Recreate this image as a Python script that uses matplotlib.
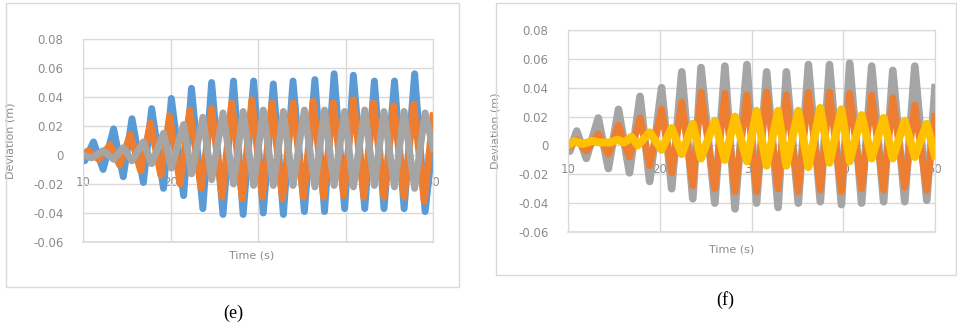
import matplotlib.pyplot as plt
from matplotlib.patches import Rectangle

# --- datos (e) ---
t_e_blue = [10.0, 10.2, 11.2, 12.3, 13.5, 14.6, 15.6, 16.9, 17.85, 19.2, 20.1, 21.5, 22.4, 23.7,
            24.7, 26.0, 27.2, 28.3, 29.5, 30.6, 31.75, 32.9, 34.0, 35.3, 36.5, 37.6, 38.7, 39.9,
            40.9, 42.2, 43.3, 44.4, 45.6, 46.7, 47.9, 49.1, 50.0]
v_e_blue = [0.0, -0.004, 0.009, -0.010, 0.018, -0.015, 0.025, -0.019, 0.032, -0.023, 0.039, -0.028,
            0.046, -0.037, 0.050, -0.041, 0.051, -0.041, 0.051, -0.040, 0.049, -0.041, 0.051, -0.039,
            0.052, -0.039, 0.056, -0.037, 0.055, -0.037, 0.051, -0.037, 0.051, -0.037, 0.056, -0.039, 0.010]

t_e_orange = [10.0, 10.6, 11.8, 13.1, 14.2, 15.4, 16.6, 17.7, 18.9, 19.9, 21.1, 22.2, 23.5, 24.7,
              25.9, 27.0, 28.2, 29.3, 30.5, 31.6, 32.8, 34.0, 35.2, 36.3, 37.5, 38.6, 39.8, 40.9,
              42.1, 43.2, 44.4, 45.5, 46.7, 47.8, 49.0, 50.0]
v_e_orange = [0.0, 0.003, -0.003, 0.007, -0.007, 0.014, -0.011, 0.022, -0.014, 0.027, -0.020, 0.031,
              -0.023, 0.032, -0.029, 0.036, -0.030, 0.038, -0.029, 0.036, -0.030, 0.036, -0.029, 0.037,
              -0.029, 0.036, -0.028, 0.038, -0.029, 0.036, -0.029, 0.034, -0.029, 0.035, -0.032, 0.027]

t_e_grey = [10.0, 11.0, 12.3, 13.5, 14.6, 15.6, 16.9, 17.85, 19.2, 20.1, 21.5, 22.4, 23.7, 24.7,
            26.0, 27.2, 28.3, 29.5, 30.6, 31.75, 32.9, 34.0, 35.3, 36.5, 37.6, 38.7, 39.9, 40.9,
            42.2, 43.3, 44.4, 45.6, 46.7, 47.9, 49.1, 50.0]
v_e_grey = [0.0, -0.002, 0.003, -0.003, 0.005, -0.004, 0.009, -0.006, 0.015, -0.009, 0.021, -0.013,
            0.026, -0.017, 0.029, -0.020, 0.030, -0.021, 0.031, -0.021, 0.030, -0.021, 0.031, -0.022,
            0.031, -0.021, 0.030, -0.022, 0.031, -0.021, 0.030, -0.022, 0.030, -0.023, 0.029, 0.005]

# --- datos (f) ---
t_f_main = [10.0, 10.2, 10.95, 12.0, 13.3, 14.4, 15.5, 16.7, 17.85, 18.9, 20.2, 21.3, 22.4, 23.6,
            24.5, 26.0, 27.1, 28.2, 29.5, 30.55, 31.65, 32.9, 33.8, 35.1, 36.2, 37.5, 38.5, 39.8,
            40.7, 42.0, 43.1, 44.4, 45.4, 46.7, 47.8, 49.1, 50.0]
v_f_grey = [0.0, -0.004, 0.010, -0.009, 0.019, -0.016, 0.025, -0.019, 0.034, -0.025, 0.040, -0.030,
            0.051, -0.037, 0.054, -0.040, 0.055, -0.044, 0.056, -0.040, 0.051, -0.043, 0.051, -0.040,
            0.056, -0.039, 0.056, -0.041, 0.057, -0.040, 0.055, -0.039, 0.052, -0.039, 0.055, -0.038, 0.040]
v_f_orange = [0.0, -0.001, 0.004, -0.004, 0.008, -0.006, 0.014, -0.008, 0.019, -0.014, 0.025, -0.019,
              0.030, -0.028, 0.037, -0.030, 0.036, -0.032, 0.035, -0.032, 0.037, -0.030, 0.035, -0.032,
              0.037, -0.031, 0.037, -0.032, 0.036, -0.030, 0.035, -0.031, 0.033, -0.029, 0.028, -0.031, 0.020]

t_f_yellow = [10.0, 10.7, 11.6, 12.6, 13.6, 14.6, 15.4, 16.1, 16.9, 17.6, 18.9, 20.2, 21.3, 22.4,
              23.6, 24.5, 26.0, 27.1, 28.2, 29.5, 30.55, 31.65, 32.9, 33.8, 35.1, 36.2, 37.5, 38.5,
              39.8, 40.7, 42.0, 43.1, 44.4, 45.4, 46.7, 47.8, 49.1, 50.0]
v_f_yellow = [0.0, 0.003, 0.001, 0.003, 0.002, 0.002, 0.004, 0.002, 0.006, 0.000, 0.009, -0.003,
              0.012, -0.006, 0.015, -0.009, 0.017, -0.010, 0.020, -0.011, 0.024, -0.014, 0.024, -0.014,
              0.024, -0.015, 0.026, -0.012, 0.025, -0.011, 0.021, -0.009, 0.019, -0.009, 0.017, -0.008,
              0.015, -0.007]

x_ticks = [10, 20, 30, 40, 50]
x_labels = ['10', '20', '30', '40', '50']
y_ticks = [-0.06, -0.04, -0.02, 0, 0.02, 0.04, 0.06, 0.08]
y_labels = ['-0.06', '-0.04', '-0.02', '0', '0.02', '0.04', '0.06', '0.08']

# colores tipo Excel
c_blue = '#5B9BD5'
c_orange = '#ED7D31'
c_grey = '#A5A5A5'
c_yellow = '#FFC000'
c_grid = '#D9D9D9'
c_text = '#8C8C8C'

fig = plt.figure(figsize=(9.57, 3.30), dpi=100)
W, H = 957, 330

# marcos de cada gráfico
fig.patches.append(Rectangle((6 / W, 1 - 287 / H), 453 / W, 284 / H, transform=fig.transFigure,
                             fill=False, edgecolor=c_grid, linewidth=1))
fig.patches.append(Rectangle((496 / W, 1 - 275 / H), 460 / W, 272 / H, transform=fig.transFigure,
                             fill=False, edgecolor=c_grid, linewidth=1))

ax_e = fig.add_axes([83 / W, 1 - 242 / H, 350 / W, 203 / H])
ax_f = fig.add_axes([568 / W, 1 - 232 / H, 367 / W, 202 / H])


def estilo(ax, pad):
    ax.set_xlim(10, 50)
    ax.set_ylim(-0.06, 0.08)
    ax.set_xticks(x_ticks)
    ax.set_xticklabels(x_labels)
    ax.set_yticks(y_ticks)
    ax.set_yticklabels(y_labels)
    ax.grid(True, color=c_grid, linewidth=1)
    ax.spines['bottom'].set_position(('data', 0))
    ax.spines['bottom'].set_visible(False)
    for s in ['left', 'top', 'right']:
        ax.spines[s].set_color(c_grid)
    ax.axhline(-0.06, color=c_grid, linewidth=1.2, clip_on=False, zorder=1)
    ax.tick_params(axis='both', length=0, colors=c_text, labelsize=8.5)
    ax.tick_params(axis='x', pad=pad)
    ax.tick_params(axis='y', pad=14)


estilo(ax_e, 15)
estilo(ax_f, 13)

lw = 5.0
ax_e.plot(t_e_blue, v_e_blue, color=c_blue, linewidth=lw)
ax_e.plot(t_e_orange, v_e_orange, color=c_orange, linewidth=lw)
ax_e.plot(t_e_grey, v_e_grey, color=c_grey, linewidth=lw)

ax_f.plot(t_f_main, v_f_grey, color=c_grey, linewidth=lw + 0.5)
ax_f.plot(t_f_main, v_f_orange, color=c_orange, linewidth=lw)
ax_f.plot(t_f_yellow, v_f_yellow, color=c_yellow, linewidth=lw + 0.8)

ax_e.set_xlabel('Time (s)', color=c_text, fontsize=8)
ax_e.xaxis.set_label_coords(0.483, -0.04)
ax_e.set_ylabel('Deviation (m)', color=c_text, fontsize=8)
ax_e.yaxis.set_label_coords(-0.194, 0.5)

ax_f.set_xlabel('Time (s)', color=c_text, fontsize=8)
ax_f.xaxis.set_label_coords(0.447, -0.06)
ax_f.set_ylabel('Deviation (m)', color=c_text, fontsize=8)
ax_f.yaxis.set_label_coords(-0.183, 0.5)

fig.text(233 / W, 1 - 313 / H, '(e)', ha='center', va='center', fontsize=13, family='Liberation Serif')
fig.text(725 / W, 1 - 300 / H, '(f)', ha='center', va='center', fontsize=13, family='Liberation Serif')

fig.savefig('out.png', dpi=100)
